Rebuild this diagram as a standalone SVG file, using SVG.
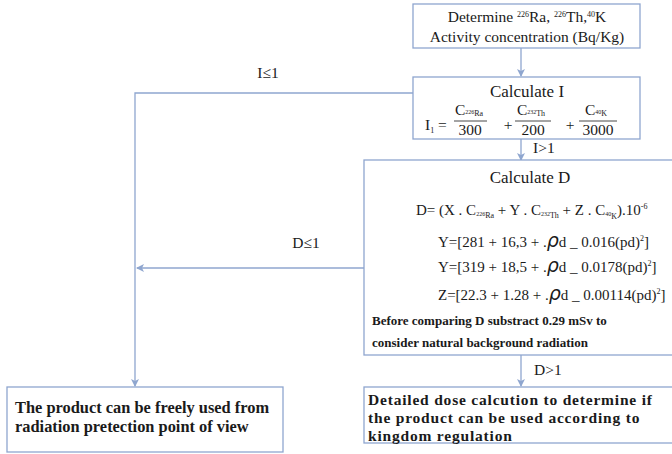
<svg xmlns="http://www.w3.org/2000/svg" width="672" height="454" viewBox="0 0 672 454">
<defs>
<marker id="ah" markerWidth="8" markerHeight="8" refX="7" refY="4" orient="auto" markerUnits="userSpaceOnUse">
<path d="M0,0 L8,4 L0,8 L2,4 Z" fill="#8fa6cf"/>
</marker>
<style>
.box{fill:#fff;stroke:#8fa6cf;stroke-width:1.3}
.ln{fill:none;stroke:#8fa6cf;stroke-width:1.3}
text{font-family:"Liberation Serif","DejaVu Serif",serif;fill:#1a1a1a}
.t{font-size:15.5px}
.h{font-size:17px}
.f{font-size:15px}
.b4{font-weight:bold;font-size:15.5px;letter-spacing:0.8px}
.b5{font-weight:bold;font-size:16.4px}
.bs{font-weight:bold;font-size:13px}
.s{font-size:8px}
.ss{font-size:6px}
.rho{font-family:"DejaVu Sans",sans-serif;font-style:italic;font-size:19px}
</style>
</defs>
<g id="connectors">
<line class="ln" x1="521" y1="48" x2="521" y2="76" marker-end="url(#ah)"/>
<line class="ln" x1="521" y1="139" x2="521" y2="160" marker-end="url(#ah)"/>
<line class="ln" x1="521" y1="355" x2="521" y2="386" marker-end="url(#ah)"/>
<polyline class="ln" points="413,93 135,93 135,386" marker-end="url(#ah)"/>
<line class="ln" x1="364" y1="268" x2="137" y2="268" marker-end="url(#ah)"/>
<text class="t" x="268" y="78" text-anchor="middle">I≤1</text>
<text class="t" x="533" y="153">I&gt;1</text>
<text class="t" x="306" y="248" text-anchor="middle">D≤1</text>
<text class="t" x="534" y="375">D&gt;1</text>
</g>
<g id="determine">
<rect class="box" x="413" y="4" width="227" height="44"/>
<text class="t" x="527" y="22" text-anchor="middle">Determine <tspan class="s" dy="-5">226</tspan><tspan dy="5">Ra, </tspan><tspan class="s" dy="-5">226</tspan><tspan dy="5">Th,</tspan><tspan class="s" dy="-5">40</tspan><tspan dy="5">K</tspan></text>
<text class="t" x="527" y="42" text-anchor="middle">Activity concentration (Bq/Kg)</text>
</g>
<g id="calc-i">
<rect class="box" x="413" y="77" width="227" height="62"/>
<text class="h" x="527" y="97" text-anchor="middle">Calculate I</text>
<text class="t" x="425" y="130">I<tspan class="s" dy="3">1</tspan><tspan dy="-3"> =</tspan></text>
<text class="t" x="469" y="115" text-anchor="middle">C<tspan class="ss" dy="-1">226</tspan><tspan class="s" dy="2">Ra</tspan></text>
<line x1="454" y1="121" x2="487" y2="121" stroke="#1a1a1a" stroke-width="0.8"/>
<text class="t" x="470" y="135" text-anchor="middle">300</text>
<text class="t" x="508" y="130" text-anchor="middle">+</text>
<text class="t" x="531" y="115" text-anchor="middle">C<tspan class="ss" dy="-1">232</tspan><tspan class="s" dy="2">Th</tspan></text>
<line x1="515" y1="121" x2="551" y2="121" stroke="#1a1a1a" stroke-width="0.8"/>
<text class="t" x="533" y="135" text-anchor="middle">200</text>
<text class="t" x="570" y="130" text-anchor="middle">+</text>
<text class="t" x="596" y="115" text-anchor="middle">C<tspan class="ss" dy="-1">40</tspan><tspan class="s" dy="2">K</tspan></text>
<line x1="579" y1="121" x2="617" y2="121" stroke="#1a1a1a" stroke-width="0.8"/>
<text class="t" x="598" y="135" text-anchor="middle">3000</text>
</g>
<g id="calc-d">
<rect class="box" x="364" y="160" width="320" height="195"/>
<text class="h" x="530" y="183" text-anchor="middle">Calculate D</text>
<text class="f" x="416" y="215">D= (X . C<tspan class="ss" dy="1">226</tspan><tspan class="s" dy="2">Ra</tspan><tspan dy="-3"> + Y .  C</tspan><tspan class="ss" dy="1">232</tspan><tspan class="s" dy="2">Th</tspan><tspan dy="-3"> + Z . C</tspan><tspan class="ss" dy="1">40</tspan><tspan class="s" dy="3">K</tspan><tspan dy="-4">).10</tspan><tspan class="s" dy="-6">-6</tspan></text>
<text class="f" x="438" y="247">Y=[281 + 16,3 + .<tspan class="rho">ρ</tspan>d _ 0.016(pd)<tspan class="s" dy="-6">2</tspan><tspan dy="6">]</tspan></text>
<text class="f" x="438" y="272">Y=[319 + 18,5 + .<tspan class="rho">ρ</tspan>d _ 0.0178(pd)<tspan class="s" dy="-6">2</tspan><tspan dy="6">]</tspan></text>
<text class="f" x="438" y="300">Z=[22.3 + 1.28 + .<tspan class="rho">ρ</tspan>d _ 0.00114(pd)<tspan class="s" dy="-6">2</tspan><tspan dy="6">]</tspan></text>
<text class="bs" x="372" y="325">Before comparing D substract 0.29 mSv to</text>
<text class="bs" x="372" y="347">consider natural background radiation</text>
</g>
<g id="detailed">
<rect class="box" x="364" y="387" width="320" height="56"/>
<text class="b4" x="368" y="405">Detailed dose calcution to determine if</text>
<text class="b4" x="368" y="423">the product can be used according to</text>
<text class="b4" x="368" y="441">kingdom regulation</text>
</g>
<g id="free">
<rect class="box" x="7" y="387" width="276" height="65"/>
<text class="b5" x="15" y="413">The product can be freely used from</text>
<text class="b5" x="15" y="432">radiation pretection point of view</text>
</g>
</svg>
